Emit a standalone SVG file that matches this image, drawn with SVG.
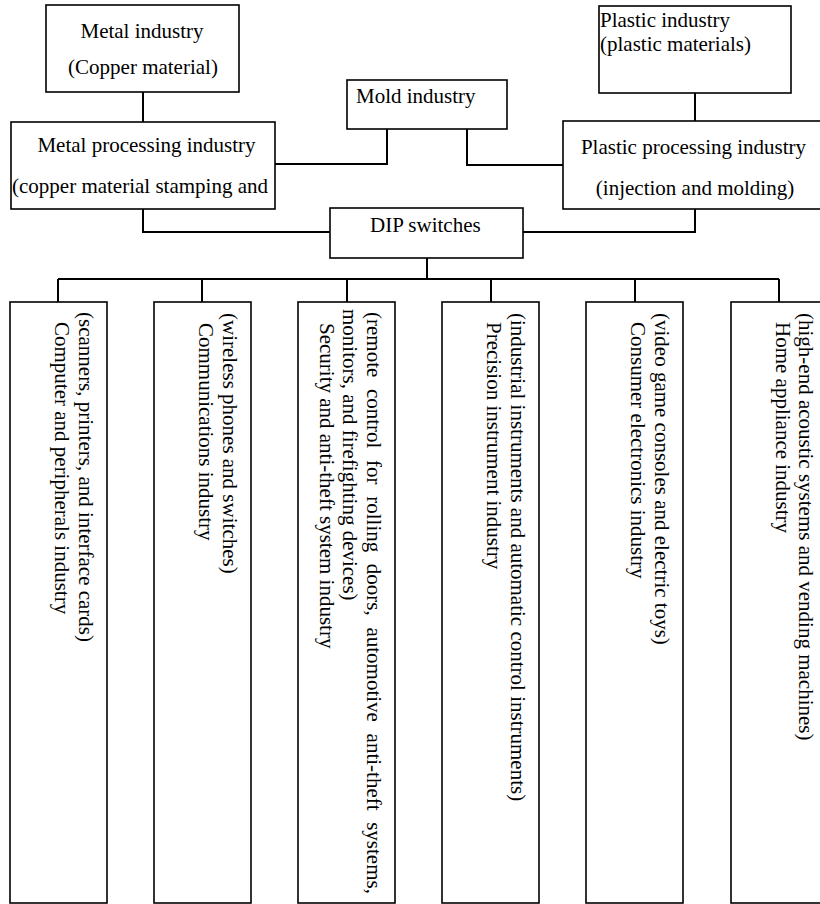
<svg xmlns="http://www.w3.org/2000/svg" width="820" height="904" viewBox="0 0 820 904">
<style>
.box{fill:#fff;stroke:#000;stroke-width:1.6}
.con{fill:none;stroke:#000;stroke-width:2}
text{font-family:"Liberation Serif","Times New Roman",serif;font-size:21px;fill:#000}
.c{text-anchor:middle}
</style>
<rect width="820" height="904" fill="#fff"/>
<g id="connectors">
<line class="con" x1="143" y1="92" x2="143" y2="122"/>
<polyline class="con" points="275,164 387,164 387,129"/>
<polyline class="con" points="467,129 467,165 563,165"/>
<line class="con" x1="695" y1="93" x2="695" y2="121"/>
<polyline class="con" points="143,209 143,232 330,232"/>
<polyline class="con" points="695,209 695,232 523,232"/>
<line class="con" x1="427" y1="258" x2="427" y2="279"/>
<line class="con" x1="58" y1="279" x2="779" y2="279"/>
<line class="con" x1="58" y1="279" x2="58" y2="302"/>
<line class="con" x1="202" y1="279" x2="202" y2="302"/>
<line class="con" x1="347" y1="279" x2="347" y2="302"/>
<line class="con" x1="491" y1="279" x2="491" y2="302"/>
<line class="con" x1="635" y1="279" x2="635" y2="302"/>
<line class="con" x1="779" y1="279" x2="779" y2="302"/>
</g>
<g id="metal-industry">
<rect class="box" x="46" y="5" width="193" height="87"/>
<text class="c" x="142" y="37.5">Metal industry</text>
<text class="c" x="143" y="74">(Copper material)</text>
</g>
<g id="metal-processing">
<rect class="box" x="11" y="122" width="264" height="87"/>
<text class="c" x="146.5" y="151.5">Metal processing industry</text>
<text x="12" y="193">(copper material stamping and</text>
</g>
<g id="mold-industry">
<rect class="box" x="347" y="80" width="160" height="49"/>
<text x="356" y="102.5">Mold industry</text>
</g>
<g id="plastic-industry">
<rect class="box" x="599" y="6" width="192" height="87"/>
<text x="600" y="27">Plastic industry</text>
<text x="600" y="50.5">(plastic materials)</text>
</g>
<g id="plastic-processing">
<rect class="box" x="563" y="121" width="262" height="88"/>
<text class="c" x="693.5" y="153.5">Plastic processing industry</text>
<text class="c" x="695" y="195">(injection and molding)</text>
</g>
<g id="dip-switches">
<rect class="box" x="330" y="208" width="193" height="50"/>
<text x="370" y="231.5">DIP switches</text>
</g>
<g id="computer">
<rect class="box" x="10" y="302" width="97" height="601"/>
<text transform="translate(78.5,312) rotate(90)">(scanners, printers, and interface cards)</text>
<text transform="translate(55,322) rotate(90)">Computer and peripherals industry</text>
</g>
<g id="communications">
<rect class="box" x="154" y="302" width="97" height="601"/>
<text transform="translate(222.5,313) rotate(90)">(wireless phones and switches)</text>
<text transform="translate(199,323) rotate(90)">Communications industry</text>
</g>
<g id="security">
<rect class="box" x="298" y="302" width="97" height="601"/>
<text transform="translate(366.5,312) rotate(90)" word-spacing="6.4">(remote control for rolling doors, automotive anti-theft systems,</text>
<text transform="translate(343,309) rotate(90)">monitors, and firefighting devices)</text>
<text transform="translate(320,323) rotate(90)">Security and anti-theft system industry</text>
</g>
<g id="precision">
<rect class="box" x="442" y="302" width="97" height="601"/>
<text transform="translate(510.5,313) rotate(90)">(industrial instruments and automatic control instruments)</text>
<text transform="translate(487,322) rotate(90)">Precision instrument industry</text>
</g>
<g id="consumer">
<rect class="box" x="586" y="302" width="97" height="601"/>
<text transform="translate(654.5,313) rotate(90)">(video game consoles and electric toys)</text>
<text transform="translate(631,322) rotate(90)">Consumer electronics industry</text>
</g>
<g id="home-appliance">
<rect class="box" x="731" y="302" width="97" height="601"/>
<text transform="translate(799,313) rotate(90)">(high-end acoustic systems and vending machines)</text>
<text transform="translate(775.5,322) rotate(90)">Home appliance industry</text>
</g>
</svg>
